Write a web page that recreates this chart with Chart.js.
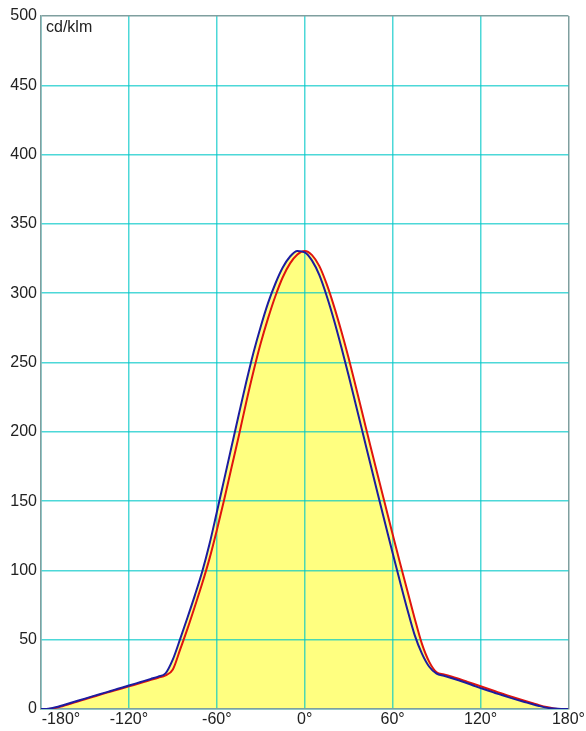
<!DOCTYPE html>
<html>
<head>
<meta charset="utf-8">
<style>
  html, body { margin: 0; padding: 0; background: #ffffff; }
  #wrap { width: 586px; height: 731px; }
</style>
<script src="https://cdn.jsdelivr.net/npm/chart.js@4/dist/chart.umd.min.js"></script>
</head>
<body>
<div id="wrap"><canvas id="c" width="586" height="731"></canvas></div>
<script>
const angles = [-180,-175,-170,-165,-160,-155,-150,-145,-140,-135,-130,-125,-120,-115,-110,-105,-100,-95,-90,-85,-80,-75,-70,-65,-60,-55,-50,-45,-40,-35,-30,-25,-20,-15,-10,-5,0,5,10,15,20,25,30,35,40,45,50,55,60,65,70,75,80,85,90,95,100,105,110,115,120,125,130,135,140,145,150,155,160,165,170,175,180];

const redValues = [0,0,0.8,2.2,3.8,5.4,7.0,8.6,10.2,11.8,13.3,14.8,16.3,17.9,19.5,21.0,22.6,24.2,28.5,43,58,74,90.5,108.5,129,151,174,197,221,243.5,264,282,298,311.5,321.5,328,330.5,327.5,319.5,306.5,290.5,272.5,253,232,210.5,189,168,147,126,105.5,85.5,65.5,47,34,26.5,25,23.5,21.8,20,18.2,16.4,14.6,12.8,11,9.3,7.6,6,4.4,2.8,1.4,0.4,0,0];

const blueValues = [0,0.2,1.2,2.7,4.3,5.9,7.5,9.1,10.7,12.2,13.8,15.3,16.9,18.5,20.1,21.7,23.4,25.7,35.8,50.6,66,82,99,119,142,165.5,189,212.5,235.5,257,276,293,307,318.5,326.5,330.5,329.5,323.5,313,298,280.5,261,240.5,219,197.5,176,154.5,133.5,112.5,92,72,53.5,40,30.5,25.5,24,22.4,20.7,18.9,17,15.1,13.3,11.6,9.9,8.2,6.6,5.1,3.6,2.2,1.0,0.3,0,0];

const xTicks = [-180,-120,-60,0,60,120,180];
const yTicks = [0,50,100,150,200,250,300,350,400,450,500];
const unitLabel = 'cd/klm';

const toPoints = (vals) => angles.map((a, i) => ({ x: a, y: vals[i] }));

const gridColor = 'rgba(0,200,200,0.7)';
const frameColor = '#7f9f9f';

const unitPlugin = {
  id: 'unitLabel',
  afterDraw(chart) {
    const { ctx, chartArea } = chart;
    ctx.save();
    ctx.font = '16px "Liberation Sans", Arial, sans-serif';
    ctx.fillStyle = '#222222';
    ctx.textAlign = 'left';
    ctx.textBaseline = 'alphabetic';
    ctx.fillText(unitLabel, chartArea.left + 5, chartArea.top + 16);
    ctx.restore();
  }
};

new Chart(document.getElementById('c'), {
  type: 'line',
  data: {
    datasets: [
      {
        label: 'C0-C180',
        data: toPoints(blueValues),
        borderColor: '#1c1ca0',
        borderWidth: 2,
        backgroundColor: '#ffff80',
        fill: 'origin',
        pointRadius: 0,
        cubicInterpolationMode: 'monotone'
      },
      {
        label: 'C90-C270',
        data: toPoints(redValues),
        borderColor: '#e0140e',
        borderWidth: 2,
        backgroundColor: '#ffff80',
        fill: 'origin',
        pointRadius: 0,
        cubicInterpolationMode: 'monotone'
      }
    ]
  },
  options: {
    responsive: false,
    animation: false,
    devicePixelRatio: 1,
    layout: { padding: { top: 16, right: 17, left: 0, bottom: 0 } },
    plugins: {
      legend: { display: false },
      tooltip: { enabled: false },
      filler: { drawTime: 'beforeDraw' }
    },
    scales: {
      x: {
        type: 'linear',
        min: -180,
        max: 180,
        afterBuildTicks: (s) => { s.ticks = xTicks.map(v => ({ value: v })); },
        afterFit: (s) => { s.height = 22; },
        ticks: {
          autoSkip: false,
          maxRotation: 0,
          padding: 1,
          color: '#222222',
          font: { family: '"Liberation Sans", Arial, sans-serif', size: 16 },
          callback: (v) => (v === -180 ? '         -180\u00B0' : v + '\u00B0')
        },
        grid: {
          drawTicks: false,
          lineWidth: 1.5,
          color: (ctx) => (ctx.tick && ctx.tick.value === 180 ? frameColor : gridColor)
        },
        border: { display: true, color: frameColor, width: 1.5 }
      },
      y: {
        type: 'linear',
        min: 0,
        max: 500,
        afterBuildTicks: (s) => { s.ticks = yTicks.map(v => ({ value: v })); },
        afterFit: (s) => { s.width = 41; },
        ticks: {
          padding: 4,
          color: '#222222',
          font: { family: '"Liberation Sans", Arial, sans-serif', size: 16 }
        },
        grid: {
          drawTicks: false,
          lineWidth: 1.5,
          color: (ctx) => (ctx.tick && ctx.tick.value === 500 ? frameColor : gridColor)
        },
        border: { display: true, color: frameColor, width: 1.5 }
      }
    }
  },
  plugins: [unitPlugin]
});
</script>
</body>
</html>
